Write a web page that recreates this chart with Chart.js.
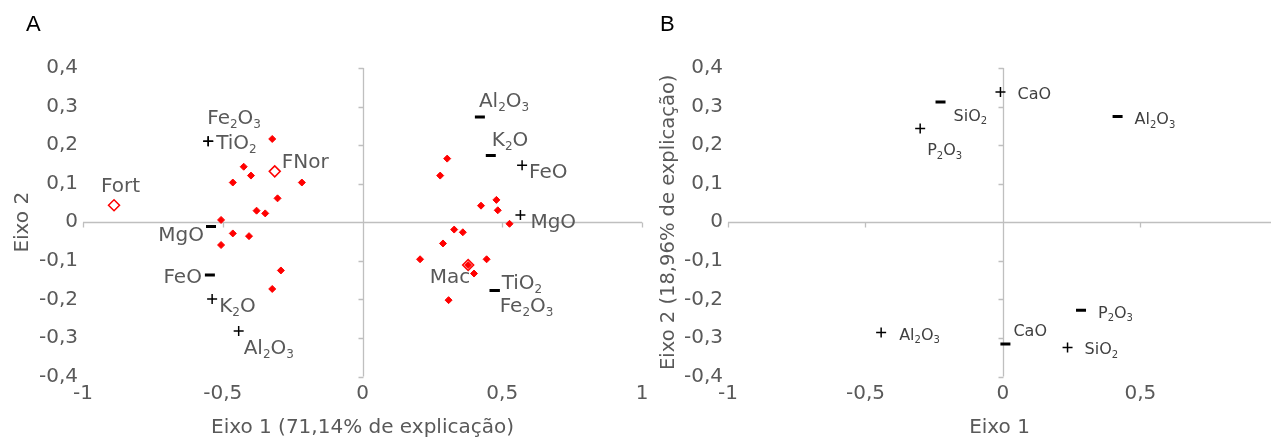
<!DOCTYPE html>
<html lang="pt-BR">
<head>
<meta charset="utf-8">
<title>ACP – Eixo 1 x Eixo 2</title>
<script src="https://cdn.jsdelivr.net/npm/chart.js@4.4.1/dist/chart.umd.min.js"></script>
<style>
  html, body { margin: 0; padding: 0; background: #fff; }
  #wrap { position: relative; width: 1279px; height: 440px; overflow: hidden; }
  .painel { position: absolute; top: 0; height: 440px; }
  .letra { position: absolute; top: 13px; font: 22px/22px "Liberation Sans", Arial, sans-serif; color: #000; }
</style>
</head>
<body>
<div id="wrap">
  <div class="painel" style="left:0; width:655px;"><canvas id="chartA" width="655" height="440"></canvas></div>
  <div class="painel" style="left:655px; width:624px;"><canvas id="chartB" width="624" height="440"></canvas></div>
  <div class="letra" style="left:26px;">A</div>
  <div class="letra" style="left:660px;">B</div>
</div>
<script>
/* ==========================================
   Dados (escores / cargas)
   ========================================== */

// Painel A - amostras (losangos vermelhos)
const amostrasX = [-0.323, -0.425, -0.399, -0.464, -0.217, -0.304, -0.379, -0.348, -0.506, -0.464, -0.406, -0.506, -0.292, -0.323,
                   0.303, 0.278, 0.424, 0.479, 0.484, 0.526, 0.328, 0.359, 0.288, 0.206, 0.444, 0.399, 0.308, 0.378];
const amostrasY = [0.216, 0.144, 0.121, 0.103, 0.103, 0.062, 0.030, 0.023, 0.006, -0.029, -0.036, -0.059, -0.125, -0.173,
                   0.165, 0.121, 0.043, 0.058, 0.031, -0.004, -0.019, -0.026, -0.055, -0.096, -0.096, -0.133, -0.202, -0.111];

// Painel A - centroides dos grupos
const gruposNomes = ['Fort', 'FNor', 'Mac'];
const gruposX = [-0.889, -0.314, 0.378];
const gruposY = [0.044, 0.132, -0.111];

// Painel A - variáveis (+)
const varMaisA = ['TiO_2', 'Fe_2O_3', 'K_2O', 'Al_2O_3', 'FeO', 'MgO'];
const varMaisAX = [-0.552, -0.552, -0.538, -0.443, 0.571, 0.565];
const varMaisAY = [0.210, 0.210, -0.199, -0.282, 0.148, 0.019];

// Painel A - variáveis (−)
const varMenosA = ['MgO', 'FeO', 'Al_2O_3', 'K_2O', 'TiO_2', 'Fe_2O_3'];
const varMenosAX = [-0.542, -0.546, 0.420, 0.459, 0.473, 0.473];
const varMenosAY = [-0.011, -0.137, 0.273, 0.173, -0.177, -0.177];

// Painel B - variáveis (+)
const varMaisB = ['CaO', 'P_2O_3', 'Al_2O_3', 'SiO_2'];
const varMaisBX = [-0.009, -0.301, -0.443, 0.235];
const varMaisBY = [0.338, 0.243, -0.286, -0.325];

// Painel B - variáveis (−)
const varMenosB = ['SiO_2', 'Al_2O_3', 'P_2O_3', 'CaO'];
const varMenosBX = [-0.227, 0.417, 0.284, 0.009];
const varMenosBY = [0.312, 0.274, -0.228, -0.316];

/* ==========================================
   Layout dos rótulos (deslocamento em px, alinhamento)
   ========================================== */
const deslGrupos = [[-13, -20, 'left'], [7, -11, 'left'], [2, 11, 'right']];
const deslMaisA = [[8, 1, 'left'], [-1, -24, 'left'], [7, 6, 'left'], [5, 16, 'left'], [7, 6, 'left'], [10, 6, 'left']];
const deslMenosA = [[-7, 7, 'right'], [-8, 1, 'right'], [-1, -17, 'left'], [1, -17, 'left'], [7, -9, 'left'], [5, 14, 'left']];
const deslMaisB = [[17, 1, 'left'], [7, 21, 'left'], [18, 2, 'left'], [17, 1, 'left']];
const deslMenosB = [[13, 13, 'left'], [17, 2, 'left'], [17, 2, 'left'], [8, -14, 'left']];

const FONTE = "'DejaVu Sans', sans-serif";
const CINZA = '#595959';

const pts = (xs, ys) => xs.map((x, i) => ({ x, y: ys[i] }));
const fmt = (v) => String(Math.round(v * 10) / 10).replace('.', ',');

// desenha texto com subscritos (ex.: "Fe_2O_3")
function textoQuimico(ctx, txt, x, y, size, align, cor) {
  const partes = txt.split(/(_\d)/).filter(Boolean);
  const sub = Math.round(size * 0.62);
  const medir = (p) => {
    const s = p.startsWith('_');
    ctx.font = `${s ? sub : size}px ${FONTE}`;
    return ctx.measureText(s ? p.slice(1) : p).width;
  };
  const total = partes.reduce((acc, p) => acc + medir(p), 0);
  let cx = align === 'right' ? x - total : x;
  const base = y + size * 0.36;
  ctx.fillStyle = cor;
  ctx.textAlign = 'left';
  ctx.textBaseline = 'alphabetic';
  partes.forEach((p) => {
    const s = p.startsWith('_');
    const w = medir(p);
    ctx.fillText(s ? p.slice(1) : p, cx, s ? base + size * 0.2 : base);
    cx += w;
  });
}

// eixos cruzando em zero, com marcas de escala
const eixosCentrais = {
  id: 'eixosCentrais',
  beforeDatasetsDraw(chart) {
    const { ctx, chartArea: a, scales: { x, y } } = chart;
    const x0 = Math.round(x.getPixelForValue(0)) + 0.5;
    const y0 = Math.round(y.getPixelForValue(0)) + 0.5;
    ctx.save();
    ctx.strokeStyle = '#BFBFBF';
    ctx.lineWidth = 1.3;
    ctx.beginPath();
    ctx.moveTo(a.left, y0); ctx.lineTo(a.right, y0);
    ctx.moveTo(x0, a.top); ctx.lineTo(x0, a.bottom);
    y.ticks.forEach((t) => {
      const p = Math.round(y.getPixelForValue(t.value)) + 0.5;
      ctx.moveTo(x0 - 5, p); ctx.lineTo(x0, p);
    });
    x.ticks.forEach((t) => {
      const p = Math.round(x.getPixelForValue(t.value)) + 0.5;
      ctx.moveTo(p, y0); ctx.lineTo(p, y0 + 5);
    });
    ctx.stroke();
    ctx.restore();
  }
};

// rótulos dos pontos
const rotulos = {
  id: 'rotulos',
  afterDatasetsDraw(chart) {
    const { ctx } = chart;
    ctx.save();
    chart.data.datasets.forEach((ds, i) => {
      if (!ds.rotulos) return;
      const meta = chart.getDatasetMeta(i);
      ds.rotulos.forEach((nome, j) => {
        const el = meta.data[j];
        const [dx, dy, al] = ds.desloc[j];
        textoQuimico(ctx, nome, el.x + dx, el.y + dy, ds.tamRotulo, al, ds.corRotulo);
      });
    });
    ctx.restore();
  }
};

function escalas(cfg) {
  return {
    x: {
      type: 'linear', position: 'bottom',
      min: cfg.xMin, max: cfg.xMax,
      grid: { display: false, drawTicks: false },
      border: { display: false },
      ticks: { stepSize: 0.5, includeBounds: false, padding: 5, color: CINZA, font: { family: FONTE, size: 20 }, callback: fmt },
      title: { display: true, text: cfg.xTitulo, color: CINZA, font: { family: FONTE, size: 20 }, padding: { top: 0, bottom: 0 } },
      afterFit: (s) => { s.height = 63.5; }
    },
    y: {
      type: 'linear', position: 'left',
      min: -0.4, max: 0.4,
      grid: { display: false, drawTicks: false },
      border: { display: false },
      ticks: { stepSize: 0.1, padding: 5, color: CINZA, font: { family: FONTE, size: 20 }, callback: fmt },
      title: { display: true, text: cfg.yTitulo, color: CINZA, font: { family: FONTE, size: cfg.yTamTitulo }, padding: { top: cfg.yPadTitulo, bottom: 0 } },
      afterFit: (s) => { s.width = cfg.yLargura; }
    }
  };
}

const base = {
  responsive: false,
  animation: false,
  events: [],
  plugins: { legend: { display: false }, tooltip: { enabled: false } }
};

function marcador(dados, estilo, nomes, desloc, tam, cor) {
  const mais = estilo === 'cross';
  return {
    data: dados,
    pointStyle: estilo,
    pointRadius: 5,
    borderColor: '#000',
    backgroundColor: '#000',
    pointBorderWidth: mais ? 1.5 : 3,
    showLine: false,
    rotulos: nomes, desloc, tamRotulo: tam, corRotulo: cor
  };
}

// Painel A
new Chart(document.getElementById('chartA'), {
  type: 'scatter',
  data: {
    datasets: [
      {
        data: pts(gruposX, gruposY),
        pointStyle: 'rectRot', pointRadius: 5.5, pointBorderWidth: 1.5,
        borderColor: '#FF0000', backgroundColor: 'rgba(255,255,255,0)',
        rotulos: gruposNomes, desloc: deslGrupos, tamRotulo: 20, corRotulo: CINZA
      },
      marcador(pts(varMaisAX, varMaisAY), 'cross', varMaisA, deslMaisA, 20, CINZA),
      marcador(pts(varMenosAX, varMenosAY), 'line', varMenosA, deslMenosA, 20, CINZA),
      {
        data: pts(amostrasX, amostrasY),
        pointStyle: 'rectRot', pointRadius: 3.5, pointBorderWidth: 1,
        borderColor: '#FF0000', backgroundColor: '#FF0000'
      }
    ]
  },
  options: {
    ...base,
    layout: { padding: { top: 68, right: 13, bottom: 0, left: 0 } },
    scales: escalas({ xMin: -1, xMax: 1, xTitulo: 'Eixo 1 (71,14% de explicação)', yTitulo: 'Eixo 2', yTamTitulo: 20, yPadTitulo: 11, yLargura: 83 })
  },
  plugins: [eixosCentrais, rotulos]
});

// Painel B
new Chart(document.getElementById('chartB'), {
  type: 'scatter',
  data: {
    datasets: [
      marcador(pts(varMaisBX, varMaisBY), 'cross', varMaisB, deslMaisB, 16, '#404040'),
      marcador(pts(varMenosBX, varMenosBY), 'line', varMenosB, deslMenosB, 16, '#404040')
    ]
  },
  options: {
    ...base,
    layout: { padding: { top: 68, right: 0, bottom: 0, left: 0 } },
    scales: escalas({ xMin: -1, xMax: 0.975, xTitulo: 'Eixo 1', yTitulo: 'Eixo 2 (18,96% de explicação)', yTamTitulo: 19.5, yPadTitulo: 2, yLargura: 73 })
  },
  plugins: [eixosCentrais, rotulos]
});
</script>
</body>
</html>
